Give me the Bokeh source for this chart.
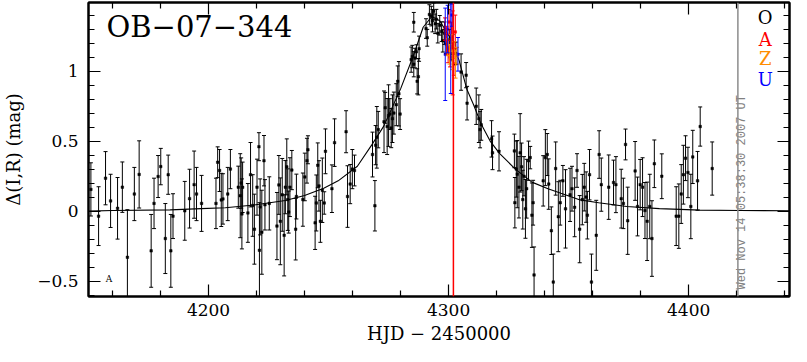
from bokeh.plotting import figure
from bokeh.models import (ColumnDataSource, Whisker, TeeHead, LinearAxis,
                          FixedTicker, Span, Range1d)
from bokeh.embed import file_html
from bokeh.resources import INLINE
from bokeh.core.properties import value

# ---------------- data ----------------
o_x = [4151.0, 4154.2, 4157.1, 4159.2, 4162.1, 4164.1, 4166.2, 4169.1, 4171.1, 4176.1,
       4177.3, 4179.0, 4180.1, 4182.0, 4183.2, 4184.3, 4185.2, 4190.1, 4192.1, 4194.0,
       4195.0, 4197.1, 4203.1, 4203.8, 4204.6, 4205.3, 4206.0, 4208.0, 4209.1, 4212.4,
       4213.2, 4213.6, 4213.9, 4214.2, 4216.4, 4217.5, 4218.4, 4219.1, 4220.2, 4221.0,
       4221.2, 4221.5, 4222.2, 4223.1, 4223.5, 4225.3, 4228.5, 4229.3, 4229.9, 4230.7,
       4231.5, 4232.0, 4232.6, 4233.0, 4233.4, 4233.9, 4234.7, 4236.3, 4236.6, 4239.3,
       4240.1, 4241.0, 4241.4, 4244.4, 4244.9, 4245.5, 4246.0, 4246.6, 4247.4, 4248.2,
       4248.7, 4251.4, 4252.5, 4257.3, 4257.9, 4259.0, 4259.9, 4260.8,
       4268.3, 4269.3, 4269.6, 4270.1, 4270.7, 4273.1, 4273.6, 4274.4, 4275.0, 4275.5,
       4276.1, 4276.6, 4277.2, 4278.2, 4278.8, 4279.3, 4279.8, 4284.4, 4284.9, 4285.5,
       4285.5, 4286.0, 4286.6, 4286.9, 4287.4, 4287.7, 4290.6, 4291.1, 4292.0, 4292.8,
       4293.3, 4293.8, 4294.4, 4294.9, 4295.5, 4296.3, 4297.1, 4297.6, 4298.3, 4299.0,
       4300.3, 4301.0, 4301.7, 4303.0, 4305.2, 4307.3, 4307.7,
       4311.5, 4312.6, 4313.1, 4313.6, 4317.9, 4318.3, 4321.0, 4327.4, 4327.6, 4328.2,
       4328.6, 4329.3, 4329.8, 4330.4, 4330.9, 4331.4, 4332.0, 4332.5, 4333.3, 4334.0,
       4334.7, 4335.2, 4335.6, 4339.4, 4340.3, 4341.1, 4341.7, 4342.8, 4343.6, 4344.6,
       4345.7, 4346.5, 4347.6, 4348.7, 4350.6, 4351.4, 4352.5, 4353.5, 4354.6, 4355.7,
       4356.5, 4357.3, 4357.8, 4358.7, 4359.5, 4361.5, 4362.7,
       4363.6, 4366.7, 4368.7, 4369.7, 4371.9, 4372.8, 4373.7, 4374.6, 4377.7, 4378.7,
       4379.8, 4380.8, 4381.8, 4382.7, 4383.8, 4384.7, 4385.7, 4388.8, 4394.8, 4395.9,
       4396.9, 4397.8, 4398.7, 4399.7, 4400.9, 4401.7, 4403.7, 4404.8, 4409.8]
o_y = [0.155, -0.036, 0.235, 0.073, 0.02, 0.171, -0.33, 0.122, 0.262, -0.284,
       0.055, 0.247, 0.318, -0.196, 0.26, -0.284, -0.036, 0.002, 0.089, 0.189,
       0.122, 0.055, 0.055, 0.349, 0.29, 0.08, 0.087, 0.122, 0.30, 0.171,
       0.11, 0.20, -0.02, 0.17, -0.013, 0.26, 0.04, -0.129, 0.171, 0.46,
       -0.28, 0.03, -0.151, 0.36, 0.045, 0.055, -0.107, 0.187, -0.073, 0.116,
       -0.173, 0.171, 0.316, 0.082, -0.007, 0.171, 0.293, -0.129, 0.104, 0.082,
       0.244, 0.36, 0.438, -0.084, 0.058, 0.327, 0.18, -0.073, 0.149, 0.058,
       0.427, 0.16, 0.489, 0.567, 0.104, 0.193, 0.30, 0.29,
       0.404, 0.038, 0.471, 0.527, 0.582, 0.638, 0.738, 0.604, 0.682, 0.693,
       0.593, 0.66, 0.70, 0.76, 0.927, 0.838, 0.693, 1.082, 1.104, 1.049,
       1.349, 1.093, 1.138, 0.927, 0.96, 1.16, 1.304, 1.238, 1.404, 1.393,
       1.36, 1.427, 1.338, 1.371, 1.271, 1.327, 1.282, 1.216, 1.271, 1.193,
       1.227, 1.16, 1.19, 1.127, 0.993, 0.971, 0.771,
       0.749, 0.66, 0.582, 0.616, 0.516, 0.416, 0.427, 0.43, 0.06, 0.30,
       0.264, 0.171, 0.416, 0.316, 0.082, 0.249, 0.016, 0.16, 0.36, 0.382,
       -0.029, 0.06, -0.456, 0.216, 0.382, 0.404, 0.193, -0.14, -0.507, 0.304,
       -0.04, 0.06, 0.216, 0.016, 0.116, 0.16, 0.027, 0.29, -0.129, 0.082,
       0.171, 0.10, -0.029, 0.26, -0.507, -0.173, 0.404,
       0.189, 0.171, 0.204, 0.189, 0.089, 0.055, 0.476, -0.069, 0.287, 0.033,
       0.189, 0.171, 0.004, -0.073, 0.033, -0.196, 0.338, 0.249, -0.036, -0.036,
       0.122, 0.26, 0.378, 0.276, 0.033, 0.387, 0.216, 0.604, 0.304]
o_err = [0.19, 0.21, 0.19, 0.19, 0.22, 0.18, 0.34, 0.19, 0.24, 0.26,
         0.18, 0.15, 0.13, 0.25, 0.14, 0.26, 0.16, 0.21, 0.21, 0.24,
         0.19, 0.20, 0.18, 0.11, 0.15, 0.19, 0.18, 0.19, 0.14, 0.15,
         0.30, 0.18, 0.25, 0.18, 0.21, 0.23, 0.22, 0.25, 0.20, 0.10,
         0.34, 0.20, 0.30, 0.18, 0.18, 0.19, 0.24, 0.21, 0.31, 0.26,
         0.29, 0.19, 0.20, 0.22, 0.15, 0.21, 0.14, 0.22, 0.16, 0.19,
         0.17, 0.16, 0.10, 0.19, 0.20, 0.16, 0.18, 0.15, 0.23, 0.08,
         0.16, 0.17, 0.17, 0.15, 0.22, 0.14, 0.14, 0.11,
         0.16, 0.18, 0.14, 0.22, 0.13, 0.22, 0.11, 0.20, 0.22, 0.11,
         0.14, 0.17, 0.15, 0.15, 0.11, 0.23, 0.11, 0.09, 0.08, 0.09,
         0.07, 0.07, 0.05, 0.09, 0.13, 0.09, 0.07, 0.06, 0.07, 0.07,
         0.08, 0.06, 0.07, 0.07, 0.07, 0.07, 0.07, 0.08, 0.08, 0.07,
         0.07, 0.08, 0.07, 0.08, 0.13, 0.09, 0.12,
         0.13, 0.17, 0.13, 0.11, 0.13, 0.12, 0.14, 0.12, 0.18, 0.20,
         0.24, 0.22, 0.28, 0.17, 0.21, 0.14, 0.21, 0.21, 0.14, 0.08,
         0.23, 0.16, 0.20, 0.18, 0.20, 0.15, 0.18, 0.17, 0.20, 0.19,
         0.25, 0.16, 0.11, 0.28, 0.19, 0.16, 0.21, 0.12, 0.24, 0.18,
         0.17, 0.18, 0.17, 0.18, 0.20, 0.25, 0.17,
         0.19, 0.23, 0.16, 0.20, 0.21, 0.18, 0.11, 0.24, 0.21, 0.21,
         0.18, 0.21, 0.20, 0.28, 0.23, 0.27, 0.17, 0.16, 0.21, 0.23,
         0.21, 0.21, 0.16, 0.18, 0.23, 0.19, 0.21, 0.14, 0.19]

a_x = [4298.5, 4299.2, 4299.8, 4300.2, 4300.6, 4301.2, 4301.7, 4302.2, 4302.8]
a_y = [1.30, 1.22, 1.14, 1.35, 1.10, 1.25, 1.13, 1.05, 1.28]
a_err = [0.08, 0.10, 0.08, 0.09, 0.07, 0.10, 0.30, 0.08, 0.12]

z_x = [4299.5, 4300.4, 4301.0, 4301.5, 4302.3, 4302.9, 4303.5]
z_y = [1.17, 1.12, 1.20, 1.08, 1.15, 1.05, 1.11]
z_err = [0.06, 0.07, 0.06, 0.07, 0.06, 0.10, 0.06]

u_x = [4298.6, 4299.6, 4300.9, 4301.4, 4303.9]
u_y = [1.12, 1.30, 1.16, 1.40, 1.12]
u_err = [0.33, 0.17, 0.32, 0.08, 0.12]

model_x = [4150, 4160, 4184, 4197, 4207, 4219, 4232, 4240, 4248, 4254, 4262, 4268,
           4273, 4280, 4285.4, 4289.4, 4293, 4296.3, 4300.3, 4304.3, 4307.6, 4310.4,
           4313.6, 4317.3, 4321.3, 4327.8, 4334.7, 4341.4, 4346.8, 4354.8, 4362.5,
           4374.2, 4387.8, 4404.7, 4421.5, 4442]
model_y = [0.0, 0.004, 0.009, 0.018, 0.024, 0.044, 0.076, 0.111, 0.164, 0.216, 0.32, 0.473,
           0.607, 0.873, 1.113, 1.313, 1.39, 1.36, 1.247, 1.08, 0.87, 0.76,
           0.62, 0.50, 0.41, 0.30, 0.207, 0.16, 0.127, 0.08, 0.06,
           0.033, 0.018, 0.007, 0.004, 0.002]

x_major = [4200, 4300, 4400]
x_minor = [4160, 4180, 4220, 4240, 4260, 4280, 4320, 4340, 4360, 4380, 4420, 4440]
y_major = [-0.5, 0, 0.5, 1]
y_minor = [-0.6, -0.4, -0.3, -0.2, -0.1, 0.1, 0.2, 0.3, 0.4, 0.6, 0.7, 0.8, 0.9,
           1.1, 1.2, 1.3, 1.4]
y_labels = {-0.5: "\u22120.5", 0: "0", 0.5: "0.5", 1: "1"}

title_text = "OB\u221207\u2212344"
legend_names = ["O", "A", "Z", "U"]
legend_colors = ["black", "#ff0000", "#ff8c00", "#0000ff"]
legend_y = [1.38, 1.227, 1.087, 0.94]
stamp_text = "Wed Nov 14 05:38:30 2007 UT"
peak_line_x = 4302.0
stamp_line_x = 4420.5

SERIF = "DejaVu Serif"

# ---------------- figure ----------------
p = figure(width=791, height=346, output_backend="svg", toolbar_location=None,
           x_range=Range1d(4150, 4442), y_range=Range1d(-0.61, 1.49),
           min_border_left=75, min_border_right=2, min_border_top=2,
           min_border_bottom=44)
p.grid.visible = False
p.outline_line_color = "black"
p.outline_line_width = 2
p.background_fill_color = "white"
p.border_fill_color = "white"


def style_axis(ax, ticker, show_labels):
    ax.ticker = ticker
    ax.major_tick_in = 12
    ax.major_tick_out = 0
    ax.minor_tick_in = 6
    ax.minor_tick_out = 0
    ax.axis_line_width = 2
    ax.axis_line_color = "black"
    ax.major_tick_line_width = 1.2
    ax.minor_tick_line_width = 1.2
    ax.major_tick_line_color = "black"
    ax.minor_tick_line_color = "black"
    ax.major_label_text_font = SERIF
    ax.major_label_text_font_size = "17px"
    ax.major_label_text_color = "black"
    ax.axis_label_text_color = "black"
    if not show_labels:
        ax.major_label_text_color = None
        ax.major_label_text_font_size = "2px"
        ax.major_label_standoff = 0


xt = FixedTicker(ticks=x_major, minor_ticks=x_minor)
yt = FixedTicker(ticks=y_major, minor_ticks=y_minor)

style_axis(p.xaxis[0], xt, True)
p.xaxis[0].major_label_standoff = 7
p.xaxis[0].axis_label = "HJD \u2212 2450000"
p.xaxis[0].axis_label_text_font = SERIF
p.xaxis[0].axis_label_text_font_size = "18px"
p.xaxis[0].axis_label_text_font_style = "normal"
p.xaxis[0].axis_label_standoff = 4

style_axis(p.yaxis[0], yt, True)
p.yaxis[0].major_label_standoff = 10
p.yaxis[0].major_label_overrides = y_labels
p.yaxis[0].axis_label = "\u0394(I,R) (mag)"
p.yaxis[0].axis_label_text_font = SERIF
p.yaxis[0].axis_label_text_font_size = "18px"
p.yaxis[0].axis_label_text_font_style = "normal"
p.yaxis[0].axis_label_standoff = 10

top_ax = LinearAxis()
style_axis(top_ax, FixedTicker(ticks=x_major, minor_ticks=x_minor), False)
p.add_layout(top_ax, "above")
right_ax = LinearAxis()
style_axis(right_ax, FixedTicker(ticks=y_major, minor_ticks=y_minor), False)
p.add_layout(right_ax, "right")

# vertical marker lines
p.add_layout(Span(location=stamp_line_x, dimension="height", line_color="#8c8c8c",
                  line_width=1.5))
p.add_layout(Span(location=peak_line_x, dimension="height", line_color="#ff0000",
                  line_width=1.5))

# model curve
p.line(model_x, model_y, line_color="black", line_width=1.1)


def add_series(xs, ys, es, color):
    src = ColumnDataSource(dict(x=xs, y=ys,
                                lo=[y - e for y, e in zip(ys, es)],
                                hi=[y + e for y, e in zip(ys, es)]))
    w = Whisker(source=src, base="x", lower="lo", upper="hi", dimension="height",
                line_color=color, line_width=1,
                lower_head=TeeHead(size=4, line_color=color, line_width=1),
                upper_head=TeeHead(size=4, line_color=color, line_width=1),
                level="glyph")
    p.add_layout(w)
    p.scatter("x", "y", source=src, marker="square", size=2.5, fill_color=color,
              line_color=color, line_width=0.5)


add_series(o_x, o_y, o_err, "black")
add_series(a_x, a_y, a_err, legend_colors[1])
add_series(z_x, z_y, z_err, legend_colors[2])
add_series(u_x, u_y, u_err, legend_colors[3])

# title inside
p.text(x=[4157.5], y=[1.44], text=[title_text], text_font=value(SERIF),
       text_font_size="29px", text_color="black", text_baseline="top",
       text_align="left")

# legend letters
p.text(x=[4431.9] * 4, y=legend_y, text=legend_names, text_color=legend_colors,
       text_font=value(SERIF), text_font_size="18px", text_align="center",
       text_baseline="middle")

# small marker label
p.text(x=[4158.5], y=[-0.487], text=["A"], text_font=value(SERIF),
       text_font_size="9px", text_color="black", text_align="center",
       text_baseline="middle")

# timestamp
p.text(x=[4425.0], y=[-0.56], text=[stamp_text], angle=1.5708,
       text_font=value("Liberation Mono"), text_font_size="12px",
       text_color="#808080", text_align="left", text_baseline="bottom")

open("out.html", "w").write(file_html(p, INLINE))
